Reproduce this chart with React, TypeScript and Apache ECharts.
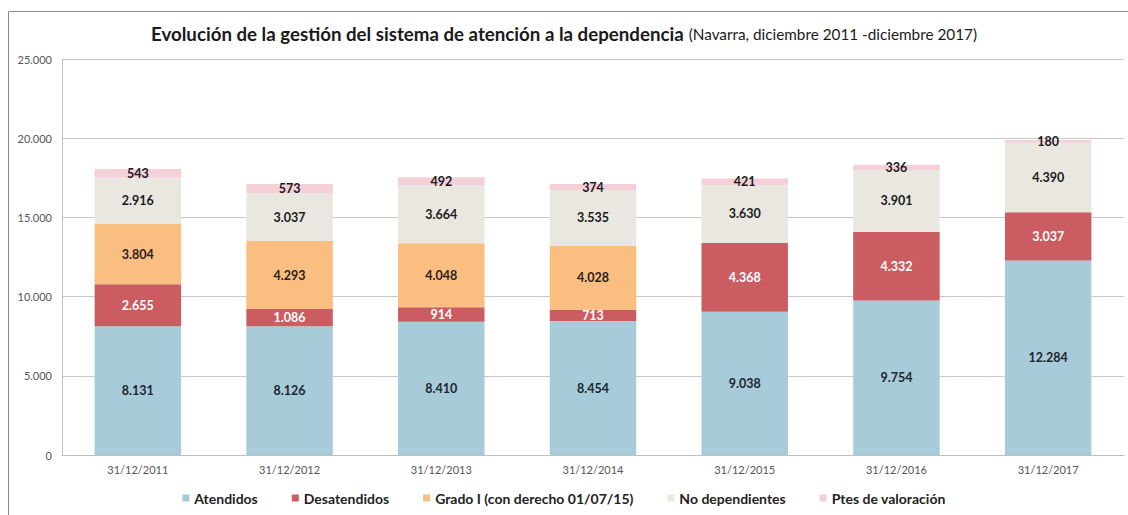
import React, { useEffect, useRef } from "react";
import * as echarts from "echarts";

const categories = ["31/12/2011", "31/12/2012", "31/12/2013", "31/12/2014", "31/12/2015", "31/12/2016", "31/12/2017"];
const atendidos = [8131, 8126, 8410, 8454, 9038, 9754, 12284];
const desatendidos = [2655, 1086, 914, 713, 4368, 4332, 3037];
const gradoI = [3804, 4293, 4048, 4028, 0, 0, 0];
const noDependientes = [2916, 3037, 3664, 3535, 3630, 3901, 4390];
const ptesValoracion = [543, 573, 492, 374, 421, 336, 180];
const yTicks = [0, 5000, 10000, 15000, 20000, 25000];

const FONT = "Lato, 'Open Sans', sans-serif";

const fmt = (v: number) => String(v).replace(/\B(?=(\d{3})+(?!\d))/g, ".");

export default function App() {
  const ref = useRef<HTMLDivElement>(null);
  useEffect(() => {
    if (!ref.current) return;
    const chart = echarts.init(ref.current, undefined, { renderer: "svg" });
    const mk = (name: string, data: number[], color: string, labelColor: string) => ({
      name,
      type: "bar",
      stack: "total",
      data,
      barWidth: "57%",
      itemStyle: { color },
      label: {
        show: true,
        position: "inside",
        color: labelColor,
        fontFamily: FONT,
        fontWeight: "bold",
        fontSize: 12.5,
        formatter: (p: any) => (p.value ? fmt(p.value) : ""),
      },
    });
    chart.setOption({
      animation: false,
      backgroundColor: "#ffffff",
      title: {
        left: "center",
        top: 19,
        text: "{b|Evolución de la gestión del sistema de atención a la dependencia} {n|(Navarra, diciembre 2011 -diciembre 2017)}",
        textStyle: {
          rich: {
            b: { fontFamily: FONT, fontWeight: "bold", fontSize: 18.7, color: "#1a1a1a" },
            n: { fontFamily: FONT, fontWeight: "normal", fontSize: 15.3, color: "#1a1a1a" },
          },
        },
      },
      graphic: [
        {
          type: "rect",
          shape: { x: 8.5, y: 11.5, width: 1140, height: 530 },
          style: { fill: "none", stroke: "#8c8c8c", lineWidth: 1 },
          silent: true,
        },
      ],
      legend: {
        top: 486,
        left: "center",
        itemWidth: 7,
        itemHeight: 7,
        itemGap: 34,
        icon: "rect",
        textStyle: { fontFamily: FONT, fontSize: 14, fontWeight: "bold", color: "#222" },
        data: ["Atendidos", "Desatendidos", "Grado I (con derecho 01/07/15)", "No dependientes", "Ptes de valoración"],
      },
      grid: { left: 62, right: 4, top: 59, bottom: 60 },
      xAxis: {
        type: "category",
        data: categories,
        axisLine: { lineStyle: { color: "#bfbfbf" } },
        axisTick: { show: false },
        axisLabel: { fontFamily: FONT, fontSize: 11, color: "#555", margin: 9 },
      },
      yAxis: {
        type: "value",
        min: yTicks[0],
        max: yTicks[yTicks.length - 1],
        interval: 5000,
        axisLine: { show: true, lineStyle: { color: "#bfbfbf" } },
        axisTick: { show: false },
        splitLine: { lineStyle: { color: "#c8c8c8" } },
        axisLabel: { fontFamily: FONT, fontSize: 11, color: "#555", margin: 10, formatter: (v: number) => fmt(v) },
      },
      series: [
        mk("Atendidos", atendidos, "#A7CBD8", "#1c2530"),
        mk("Desatendidos", desatendidos, "#CB5D62", "#ffffff"),
        mk("Grado I (con derecho 01/07/15)", gradoI, "#FABE80", "#2a2020"),
        mk("No dependientes", noDependientes, "#E9E7DF", "#1a1a1a"),
        mk("Ptes de valoración", ptesValoracion, "#F4D0D9", "#1a1a1a"),
      ],
    });
    return () => chart.dispose();
  }, []);
  return <div ref={ref} style={{ position: "fixed", left: 0, top: 0, width: 1128, height: 515 }} />;
}
